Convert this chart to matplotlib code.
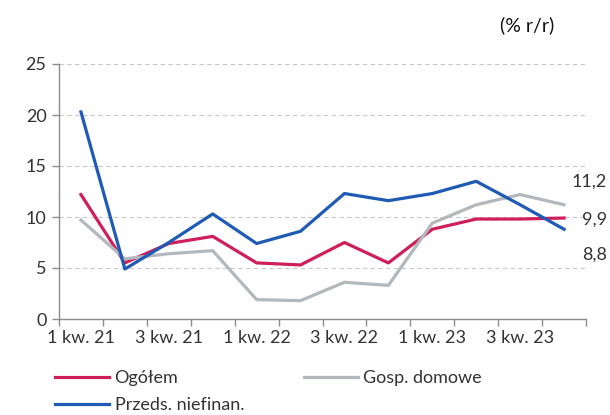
import matplotlib
matplotlib.use("Agg")
import matplotlib.pyplot as plt
import numpy as np

plt.rcParams['font.family'] = ['Lato', 'DejaVu Sans']

quarters = ["1 kw. 21", "2 kw. 21", "3 kw. 21", "4 kw. 21",
            "1 kw. 22", "2 kw. 22", "3 kw. 22", "4 kw. 22",
            "1 kw. 23", "2 kw. 23", "3 kw. 23", "4 kw. 23"]
ogolem = [12.2, 5.5, 7.4, 8.1, 5.5, 5.3, 7.5, 5.5, 8.8, 9.8, 9.8, 9.9]
gosp_domowe = [9.7, 5.9, 6.4, 6.7, 1.9, 1.8, 3.6, 3.3, 9.4, 11.2, 12.2, 11.2]
przeds = [20.3, 4.9, 7.5, 10.3, 7.4, 8.6, 12.3, 11.6, 12.3, 13.5, 11.2, 8.8]
end_labels = ["11,2", "9,9", "8,8"]

c_red = "#CE1F5B"
c_gray = "#B3B8BD"
c_blue = "#1F5BB4"
c_text = "#333333"
fs = 13

fig = plt.figure(figsize=(6.1, 4.15), dpi=100)
ax = fig.add_axes([59 / 610, 1 - 319 / 415, 527 / 610, 255 / 415])

x = np.arange(len(quarters))
l_red, = ax.plot(x, ogolem, color=c_red, lw=2.3, label="Ogółem")
l_gray, = ax.plot(x, gosp_domowe, color=c_gray, lw=2.3, label="Gosp. domowe")
l_blue, = ax.plot(x, przeds, color=c_blue, lw=2.3, label="Przeds. niefinan.")

ax.set_xlim(-0.5, len(quarters) - 0.5)
ax.set_ylim(0, 25)
ax.set_yticks([0, 5, 10, 15, 20, 25])
for v in [5, 10, 15, 20, 25]:
    ax.axhline(v, color="#C8C8C8", lw=0.8, ls=(0, (4, 3)), zorder=0)

ax.set_xticks(np.arange(-0.5, len(quarters), 1))
ax.set_xticklabels([])
ax.set_xticks(x[::2], [quarters[i] for i in x[::2]], minor=True)
ax.tick_params(axis="x", which="major", length=5, color="#8C8C8C", width=1)
ax.tick_params(axis="x", which="minor", length=0, pad=8, labelsize=fs, labelcolor=c_text)
ax.tick_params(axis="y", length=5, color="#8C8C8C", width=1, labelsize=fs, labelcolor=c_text, pad=4)

for s in ["top", "right"]:
    ax.spines[s].set_visible(False)
for s in ["left", "bottom"]:
    ax.spines[s].set_color("#8C8C8C")
    ax.spines[s].set_linewidth(1)

# value labels at the end of series
for ypix, lab in zip([182, 220, 255], end_labels):
    fig.text(607 / 610, 1 - ypix / 415, lab, fontsize=fs, color=c_text,
             ha="right", va="center")

fig.text(527 / 610, 1 - 25 / 415, "(% r/r)", fontsize=fs + 1, color="#111111",
         ha="center", va="center")

fig.legend(handles=[l_red, l_blue, l_gray],
           loc="upper left", bbox_to_anchor=(55 / 610, 1 - 370 / 415), ncol=2,
           frameon=False, fontsize=fs, handlelength=3.0, handletextpad=0.3,
           columnspacing=3.3, labelspacing=0.6, borderaxespad=0, borderpad=0,
           labelcolor=c_text)

fig.savefig("out.png", dpi=100)
